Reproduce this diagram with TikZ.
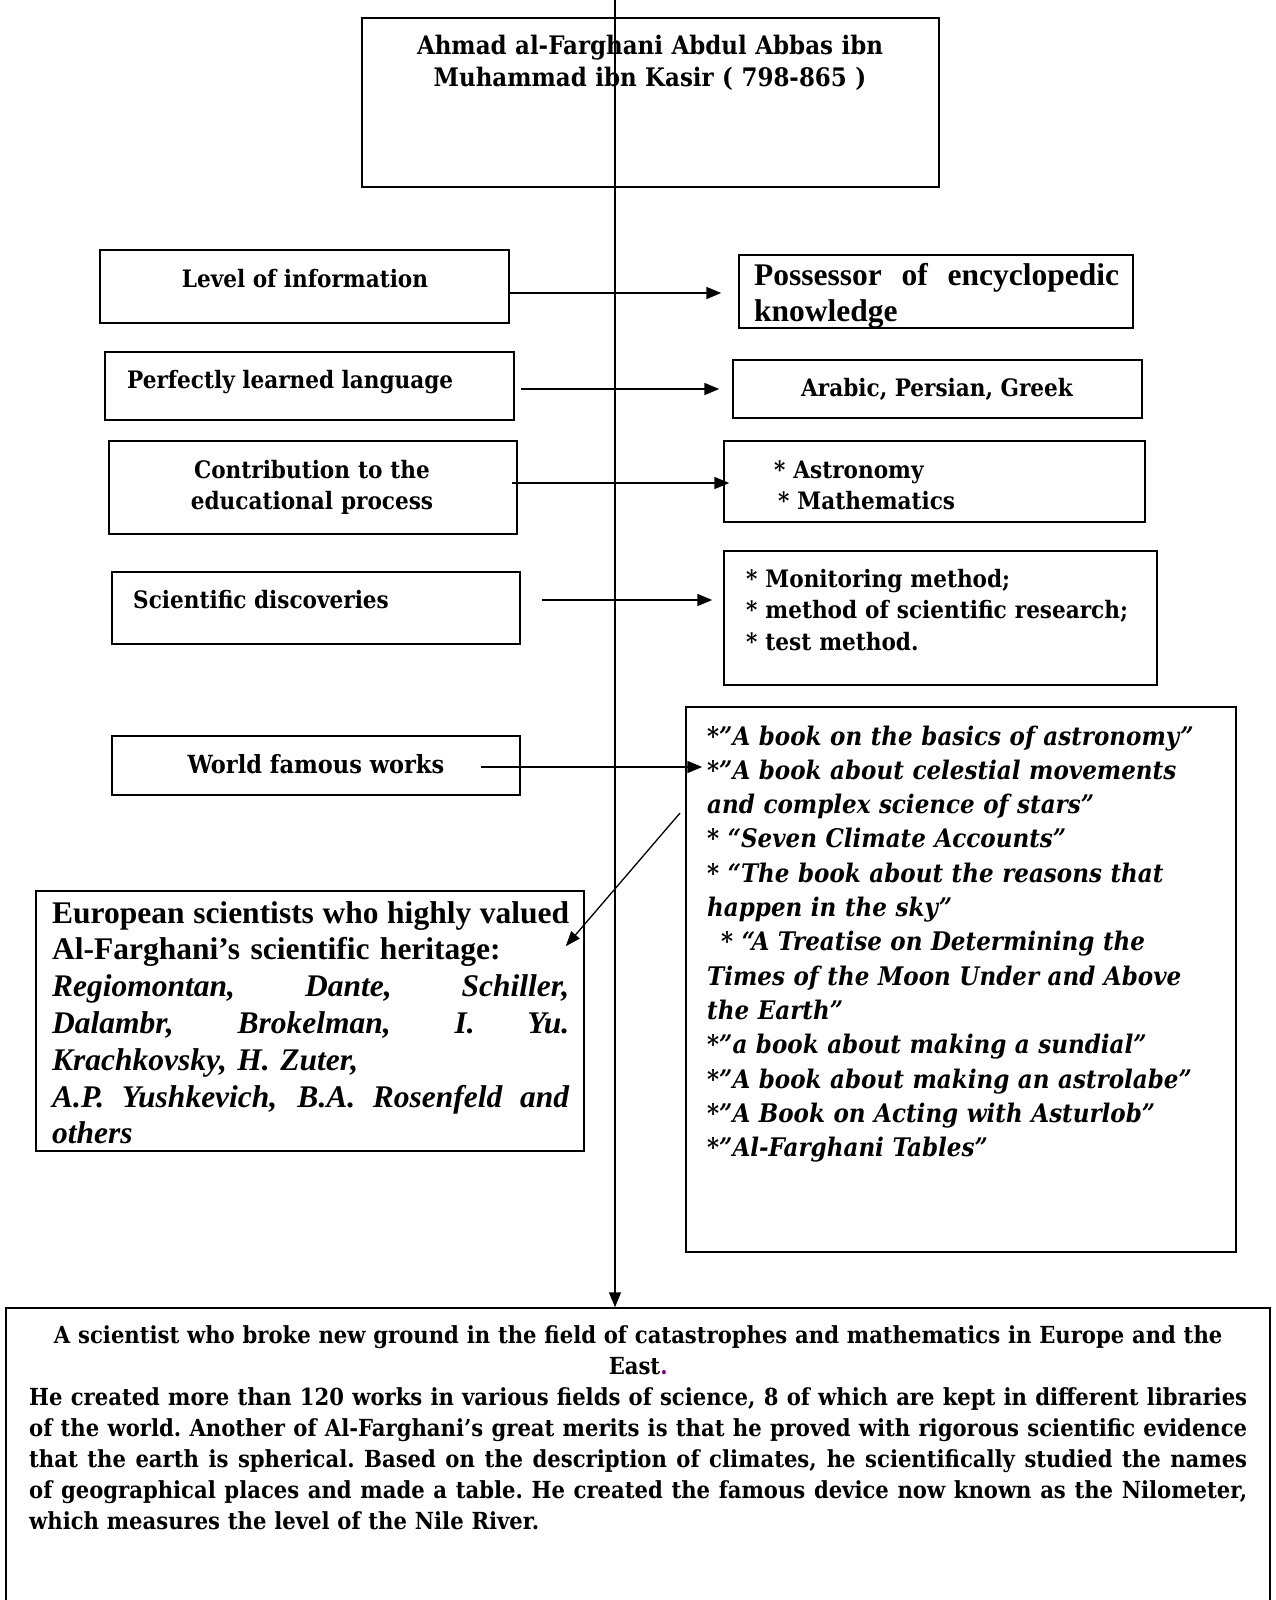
\documentclass[tikz,border=0pt]{standalone}
\usepackage{fontspec}
\setmainfont{Liberation Serif}
\newfontfamily\camfont{DejaVuSerifCondensed}[Extension=.ttf, UprightFont=*, BoldFont=*-Bold, ItalicFont=*-Italic, BoldItalicFont=*-BoldItalic]
\usetikzlibrary{positioning, arrows.meta, fit}
\newcommand{\spreadline}[1]{{\spaceskip=\fontdimen2\font plus 1fil minus \fontdimen4\font
  \xspaceskip=\spaceskip\makebox[\linewidth][s]{#1}}}

\begin{document}
\begin{tikzpicture}[x=1pt, y=-1pt,
    frame/.style={draw, line width=1.5pt, inner sep=0pt},
    lbl/.style={inner sep=0pt, font=\camfont\bfseries\fontsize{24}{31.5}\selectfont},
    ital/.style={inner sep=0pt, font=\camfont\bfseries\itshape\fontsize{25.6}{34.3}\selectfont},
    tnr/.style={inner sep=0pt, font=\bfseries\fontsize{31.5}{36.8}\selectfont},
    note/.style={inner sep=0pt, font=\camfont\bfseries\fontsize{23.5}{31}\selectfont},
    arr/.style={-{Triangle[length=15pt, width=12pt]}, line width=1.8pt},
  ]
    \useasboundingbox (0,0) rectangle (1276,1600);
    % boxes
    \node[frame, fit={(362,18) (939,187)}] (head) {};
    \node[frame, fit={(100,250) (509,323)}] (lvl) {};
    \node[frame, fit={(739,255) (1133,328)}] (encyc) {};
    \node[frame, fit={(105,352) (514,420)}] (lang) {};
    \node[frame, fit={(733,360) (1142,418)}] (langR) {};
    \node[frame, fit={(109,441) (517,534)}] (edu) {};
    \node[frame, fit={(724,441) (1145,522)}] (eduR) {};
    \node[frame, fit={(112,572) (520,644)}] (disc) {};
    \node[frame, fit={(724,551) (1157,685)}] (discR) {};
    \node[frame, fit={(112,736) (520,795)}] (works) {};
    \node[frame, fit={(686,707) (1236,1252)}] (worksR) {};
    \node[frame, fit={(36,891) (584,1151)}] (euro) {};
    \node[frame, fit={(6,1308) (1270,1603)}] (sum) {};
    % texts
    \node[lbl, font=\camfont\bfseries\fontsize{25.5}{32}\selectfont, anchor=base, text width=560pt, align=center] (headtxt) at (650,55)
      {Ahmad al-Farghani Abdul Abbas ibn\\ Muhammad ibn Kasir ( 798-865 )};
    \node[lbl, anchor=base] (lvltxt) at (305,287) {Level of information};
    \node[tnr, anchor=base west, text width=365pt, align=left] (encyctxt) at (754,285)
      {\spreadline{Possessor of encyclopedic}\\ knowledge};
    \node[lbl, anchor=base west] (langtxt) at (127,388) {Perfectly learned language};
    \node[lbl, anchor=base] (langRtxt) at (937,396) {Arabic, Persian, Greek};
    \node[lbl, anchor=base, text width=380pt, align=center] (edutxt) at (312,478)
      {Contribution to the\\ educational process};
    \node[lbl, anchor=base west, text width=300pt, align=left] (eduRtxt) at (774,478)
      {* Astronomy\\ \hspace*{4pt}* Mathematics};
    \node[lbl, anchor=base west] (disctxt) at (133,608) {Scientific discoveries};
    \node[lbl, anchor=base west, text width=420pt, align=left] (discRtxt) at (746,587)
      {* Monitoring method;\\{}* method of scientific research;\\{}* test method.};
    \node[lbl, font=\camfont\bfseries\fontsize{25}{31.5}\selectfont, anchor=base] (workstxt) at (316,773) {World famous works};
    \node[ital, anchor=base west, text width=525pt, align=left] (worksRtxt) at (707,745)
      {*”A book on the basics of astronomy”\\{}%
       *”A book about celestial movements\\
       and complex science of stars”\\{}%
       * “Seven Climate Accounts”\\{}%
       * “The book about the reasons that\\
       happen in the sky”\\
       \hspace*{14pt}* “A Treatise on Determining the\\
       Times of the Moon Under and Above\\
       the Earth”\\{}%
       *”a book about making a sundial”\\{}%
       *”A book about making an astrolabe”\\{}%
       *”A Book on Acting with Asturlob”\\{}%
       *”Al-Farghani Tables”};
    \node[tnr, anchor=base west, text width=517pt, align=left] (eurotxt) at (52,923)
      {\spreadline{European scientists who highly valued}\\
       Al-Farghani’s scientific heritage:\\
       \itshape\spreadline{Regiomontan, Dante, Schiller,}\\
       \spreadline{Dalambr, Brokelman, I. Yu.}\\
       Krachkovsky, H. Zuter,\\
       \spreadline{A.P. Yushkevich, B.A. Rosenfeld and}\\
       others};
    \node[note, anchor=base west, text width=1218pt, align=left] (sumtxt) at (29,1343)
      {\makebox[\linewidth][c]{A scientist who broke new ground in the field of catastrophes and mathematics in Europe and the}\\
       \makebox[\linewidth][c]{East{\color{violet}.}}\\
       \spreadline{He created more than 120 works in various fields of science, 8 of which are kept in different libraries}\\
       \spreadline{of the world. Another of Al-Farghani’s great merits is that he proved with rigorous scientific evidence}\\
       \spreadline{that the earth is spherical. Based on the description of climates, he scientifically studied the names}\\
       \spreadline{of geographical places and made a table. He created the famous device now known as the Nilometer,}\\
       which measures the level of the Nile River.};
    % connectors
    \coordinate (spine) at (615,0);
    \draw[line width=1.5pt, -{Triangle[length=15pt, width=12pt]}] (spine) -- (spine |- sum.north);
    \draw[arr] ([yshift=-6.5pt]lvl.east) coordinate (a1) -- ([xshift=-17pt]encyc.west |- a1);
    \draw[arr] ([xshift=6pt, yshift=-3pt]lang.east) coordinate (a2) -- ([xshift=-13pt]langR.west |- a2);
    \draw[arr] ([xshift=-6pt, yshift=4.5pt]edu.east) coordinate (a3) -- ([xshift=6pt]eduR.west |- a3);
    \draw[arr] ([xshift=21pt, yshift=8pt]disc.east) coordinate (a4) -- ([xshift=-11pt]discR.west |- a4);
    \draw[arr] ([xshift=-40pt, yshift=-1.5pt]works.east) coordinate (a5) -- ([xshift=17pt]worksR.west |- a5);
    \coordinate (diagtop) at (680,813);
    \draw[line width=1.3pt, -{Triangle[length=15pt, width=11pt]}] (diagtop) -- ([xshift=-19pt, yshift=-56pt]euro.north east);
\end{tikzpicture}
\end{document}
